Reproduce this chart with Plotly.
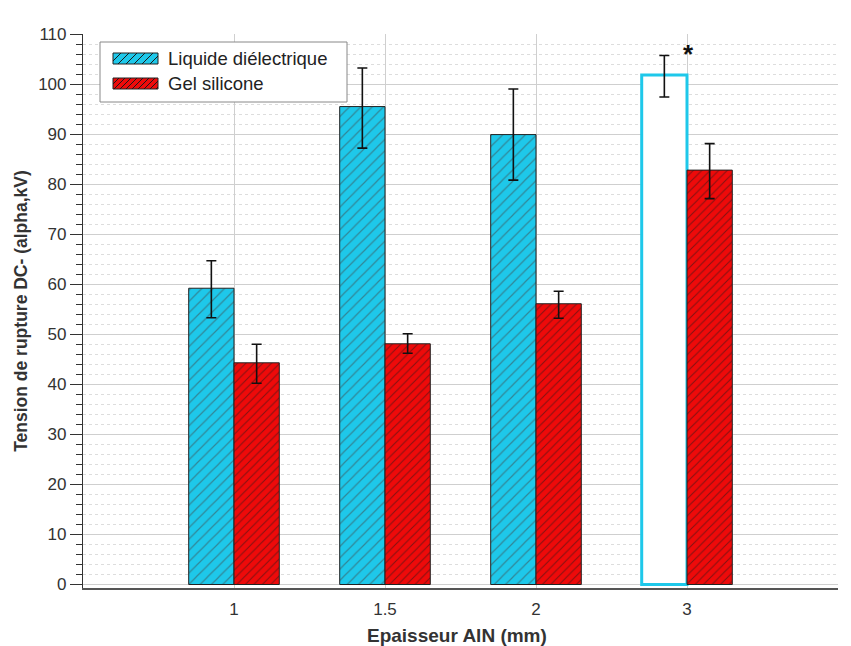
import plotly.graph_objects as go

# Data
thickness = ["1", "1.5", "2", "3"]

liquide = [59.2, 95.5, 89.9, 101.8]
liquide_err_plus = [5.5, 7.7, 9.1, 3.9]
liquide_err_minus = [5.9, 8.3, 9.1, 4.4]

gel = [44.3, 48.1, 56.1, 82.8]
gel_err_plus = [3.7, 2.0, 2.5, 5.3]
gel_err_minus = [4.1, 1.9, 2.9, 5.7]

series_names = ["Liquide diélectrique", "Gel silicone"]

cyan = "#1ec8ea"
red = "#ee0a0a"
hatch = "#1a1a1a"

# the page body adds an 8px margin, so the figure is drawn 8px in
OFF = 8
FIG_W, FIG_H = 851 - OFF, 646 - OFF

# plot area in window pixels (left, right, top, bottom)
L, R, T, B = 83, 838, 34, 588
W, H = R - L, B - T


def px(x):
    return (x - L) / W


def py(y):
    return (B - y) / H


fig = go.Figure()

fig.add_trace(go.Bar(
    x=thickness, y=liquide, name=series_names[0], showlegend=False,
    marker=dict(
        color=[cyan, cyan, cyan, "white"],
        line=dict(color=["#222222", "#222222", "#222222", cyan],
                  width=[1, 1, 1, 3]),
        pattern=dict(shape=["/", "/", "/", ""], fgcolor=hatch,
                     size=8, solidity=0.15),
    ),
    error_y=dict(type="data", symmetric=False, array=liquide_err_plus,
                 arrayminus=liquide_err_minus, color="#111111",
                 thickness=1.6, width=5),
))

fig.add_trace(go.Bar(
    x=thickness, y=gel, name=series_names[1], showlegend=False,
    marker=dict(
        color=red,
        line=dict(color="#222222", width=1),
        pattern=dict(shape="/", fgcolor=hatch, size=6, solidity=0.18),
    ),
    error_y=dict(type="data", symmetric=False, array=gel_err_plus,
                 arrayminus=gel_err_minus, color="#111111",
                 thickness=1.6, width=5),
))

# significance star above the 3 mm group
fig.add_annotation(x="3", y=106.0, text="<b>*</b>", showarrow=False,
                   xshift=1, font=dict(size=26, color="#111111"))

# x axis title placed as an annotation below the tick labels
fig.add_annotation(xref="paper", yref="paper", x=px(457), y=py(635),
                   xanchor="center", yanchor="middle",
                   text="<b>Epaisseur AlN (mm)</b>", showarrow=False,
                   font=dict(size=19, color="#333333"))

# legend drawn by hand so the swatches are wide hatched rectangles
shapes = [dict(type="rect", xref="paper", yref="paper",
               x0=px(100), x1=px(347), y0=py(102), y1=py(42),
               fillcolor="white", line=dict(color="#888888", width=1))]
for name, col, top, step in [(series_names[0], cyan, 53, 8),
                             (series_names[1], red, 78, 6)]:
    x0, x1, y0, y1 = 113, 158, top, top + 11
    shapes.append(dict(type="rect", xref="paper", yref="paper",
                       x0=px(x0), x1=px(x1), y0=py(y1), y1=py(y0),
                       fillcolor=col, line=dict(color="#222222", width=1)))
    h = y1 - y0
    c = x0 - h
    while c < x1:
        t0, t1 = max(0, x0 - c), min(h, x1 - c)
        if t1 > t0:
            shapes.append(dict(type="line", xref="paper", yref="paper",
                               x0=px(c + t0), y0=py(y1 - t0),
                               x1=px(c + t1), y1=py(y1 - t1),
                               line=dict(color=hatch, width=1)))
        c += step
    fig.add_annotation(xref="paper", yref="paper", x=px(166), y=py(top + 5.5),
                       xanchor="left", yanchor="middle", text=name,
                       showarrow=False, font=dict(size=18.5, color="#222222"))

fig.update_layout(
    width=FIG_W, height=FIG_H,
    margin=dict(l=L - OFF, r=FIG_W + OFF - R, t=T - OFF, b=FIG_H + OFF - B),
    paper_bgcolor="white", plot_bgcolor="white",
    font=dict(family="Liberation Sans, Arial, sans-serif", color="#333333"),
    barmode="group", bargap=0.4, bargroupgap=0,
    showlegend=False,
    shapes=shapes,
    xaxis=dict(
        type="category", range=[-1, 4], automargin=False,
        showline=True, linecolor="#555555", linewidth=1.5,
        showgrid=True, gridcolor="#cfcfcf", gridwidth=1,
        ticks="", tickfont=dict(size=17, color="#333333"),
        ticklabelstandoff=5,
    ),
    yaxis=dict(
        range=[-0.7, 110], tickvals=list(range(0, 111, 10)), automargin=False,
        showline=True, linecolor="#333333", linewidth=1.2,
        ticks="outside", ticklen=12, tickcolor="#333333", tickwidth=1.2,
        tickfont=dict(size=17, color="#333333"),
        showgrid=True, gridcolor="#cfcfcf", gridwidth=1,
        zeroline=False,
        minor=dict(dtick=2, ticks="outside", ticklen=6, tickcolor="#333333",
                   showgrid=True, gridcolor="#dddddd", griddash="dot"),
        title=dict(text="<b>Tension de rupture DC- (alpha,kV)</b>",
                   standoff=6, font=dict(size=17.5, color="#333333")),
    ),
)

fig.write_html("out.html")
